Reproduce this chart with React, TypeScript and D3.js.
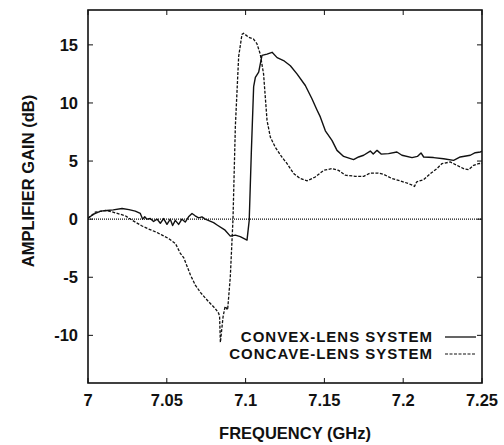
import React from "react";
import * as d3 from "d3";

const xTicks = [7, 7.05, 7.1, 7.15, 7.2, 7.25];
const xTickLabels = ["7", "7.05", "7.1", "7.15", "7.2", "7.25"];
const yTicks = [-10, -5, 0, 5, 10, 15];
const yTickLabels = ["-10", "-5", "0", "5", "10", "15"];

const seriesNames = ["CONVEX-LENS SYSTEM", "CONCAVE-LENS SYSTEM"];

const convexFreq = [
  7.0, 7.004, 7.008, 7.012, 7.016, 7.0216, 7.026, 7.03, 7.0332, 7.0347, 7.036, 7.0374, 7.0395,
  7.0416, 7.0438, 7.0459, 7.048, 7.0501, 7.0522, 7.0537, 7.0554, 7.0575, 7.0596, 7.0617, 7.0638,
  7.066, 7.068, 7.0702, 7.0723, 7.0744, 7.0797, 7.0819, 7.087, 7.0903, 7.0935, 7.0966, 7.1009,
  7.1023, 7.1036, 7.1051, 7.1062, 7.1083, 7.1104, 7.1136, 7.1168, 7.12, 7.1241, 7.1284, 7.1326,
  7.1379, 7.1421, 7.1453, 7.1474, 7.1506, 7.1548, 7.158, 7.1622, 7.1685, 7.1717, 7.1749, 7.1791,
  7.181, 7.1834, 7.186, 7.1907, 7.196, 7.1992, 7.2056, 7.209, 7.2113, 7.213, 7.2193, 7.2256,
  7.232, 7.2362, 7.2426, 7.2457, 7.249, 7.25,
];
const convexGain = [
  0.1, 0.45, 0.69, 0.75, 0.8, 0.92, 0.82, 0.69, 0.49, 0.0, 0.2, 0.0, 0.06,
  -0.2, 0.0, -0.35, 0.05, -0.45, 0.0, -0.55, -0.1, -0.45, 0.0, -0.25, 0.2,
  0.49, 0.29, 0.11, 0.2, 0.0, -0.3, -0.5, -0.95, -1.46, -1.37, -1.5, -1.8,
  -0.1, 5.6, 11.4, 12.2, 12.65, 14.1, 14.2, 14.36, 13.9, 13.65, 13.2, 12.5,
  11.5, 10.36, 9.4, 8.8, 7.6, 6.78, 5.92, 5.4, 5.12, 5.35, 5.5, 5.86,
  5.6, 5.92, 5.6, 5.64, 5.78, 5.5, 5.3, 5.4, 5.7, 5.35, 5.3, 5.2,
  5.06, 5.35, 5.5, 5.72, 5.78, 5.85,
];

const concaveFreq = [
  7.0, 7.0046, 7.011, 7.0152, 7.0237, 7.028, 7.034, 7.0385, 7.043, 7.047, 7.051, 7.0555, 7.0586,
  7.0607, 7.065, 7.068, 7.0713, 7.0765, 7.0808, 7.0829, 7.0835, 7.084, 7.0857, 7.087, 7.0886,
  7.0903, 7.092, 7.0935, 7.0956, 7.0977, 7.0987, 7.102, 7.105, 7.1072, 7.1093, 7.1114, 7.1136,
  7.1157, 7.1188, 7.123, 7.1263, 7.1305, 7.1347, 7.139, 7.1442, 7.1495, 7.1548, 7.159, 7.1633,
  7.1696, 7.175, 7.1791, 7.184, 7.1876, 7.1929, 7.1982, 7.2034, 7.2072, 7.2085, 7.2129, 7.2172,
  7.2214, 7.2246, 7.2299, 7.2341, 7.2383, 7.2415, 7.2447, 7.2478, 7.25,
];
const concaveGain = [
  0.05, 0.6, 0.75, 0.63, 0.29, -0.09, -0.57, -0.85, -1.1, -1.37, -1.65, -2.1, -2.95,
  -3.3, -4.8, -5.65, -6.3, -7.1, -7.7, -8.1, -8.4, -10.6, -8.4, -7.5, -7.8,
  -4.95, 0.0, 8.0, 14.0, 15.9, 16.0, 15.65, 15.5, 15.1, 14.2, 12.5, 8.5,
  7.06, 6.2, 5.35, 4.78, 3.92, 3.5, 3.3, 3.63, 4.2, 4.35, 4.2, 3.78,
  3.69, 3.69, 3.97, 3.97, 3.86, 3.49, 3.29, 3.06, 2.83, 3.2, 3.4, 3.92,
  4.35, 4.78, 4.92, 4.63, 4.35, 4.26, 4.63, 4.78, 4.8,
];

const W = 504;
const H = 445;
const plot = { left: 88, right: 482, top: 10, bottom: 383 };
const FONT = "'Liberation Sans', Arial, Helvetica, sans-serif";

export default function App() {
  const x = d3.scaleLinear().domain([7, 7.25]).range([plot.left, plot.right]);
  const y = d3.scaleLinear().domain([-14.1, 18]).range([plot.bottom, plot.top]);

  const line = d3
    .line<[number, number]>()
    .x((d) => x(d[0]))
    .y((d) => y(d[1]));

  const convexPts = convexFreq.map((f, i) => [f, convexGain[i]] as [number, number]);
  const concavePts = concaveFreq.map((f, i) => [f, concaveGain[i]] as [number, number]);

  const tickLen = 5;
  const textStyle = {
    fontFamily: FONT,
    fontWeight: "bold" as const,
    fontSize: 16.5,
    fill: "#111",
  };
  const legendStyle = {
    fontFamily: FONT,
    fontWeight: "bold" as const,
    fontSize: 15,
    letterSpacing: 1,
    fill: "#111",
  };

  return (
    <svg
      width={W}
      height={H}
      style={{ position: "absolute", left: 0, top: 0, background: "#fff" }}
    >
      <defs>
        <clipPath id="plotClip">
          <rect x={plot.left} y={plot.top} width={plot.right - plot.left} height={plot.bottom - plot.top} />
        </clipPath>
      </defs>
      {/* zero line */}
      <line
        x1={plot.left}
        x2={plot.right}
        y1={y(0)}
        y2={y(0)}
        stroke="#111"
        strokeWidth={1.1}
        strokeDasharray="1,1"
      />
      {/* ticks */}
      {xTicks.map((t, i) => (
        <g key={"xt" + i}>
          <line x1={x(t)} x2={x(t)} y1={plot.bottom} y2={plot.bottom - tickLen} stroke="#111" strokeWidth={1} />
          <line x1={x(t)} x2={x(t)} y1={plot.top} y2={plot.top + tickLen} stroke="#111" strokeWidth={1} />
          <text x={x(t)} y={406} textAnchor="middle" {...textStyle}>
            {xTickLabels[i]}
          </text>
        </g>
      ))}
      {yTicks.map((t, i) => (
        <g key={"yt" + i}>
          <line x1={plot.left} x2={plot.left + tickLen} y1={y(t)} y2={y(t)} stroke="#111" strokeWidth={1} />
          <line x1={plot.right} x2={plot.right - tickLen} y1={y(t)} y2={y(t)} stroke="#111" strokeWidth={1} />
          <text x={78} y={y(t) + 6} textAnchor="end" {...textStyle}>
            {yTickLabels[i]}
          </text>
        </g>
      ))}
      {/* curves */}
      <g clipPath="url(#plotClip)">
        <path d={line(convexPts) || ""} fill="none" stroke="#111" strokeWidth={1.4} strokeLinejoin="round" />
        <path
          d={line(concavePts) || ""}
          fill="none"
          stroke="#111"
          strokeWidth={1.3}
          strokeDasharray="3,1.5"
        />
      </g>
      {/* frame */}
      <rect
        x={plot.left}
        y={plot.top}
        width={plot.right - plot.left}
        height={plot.bottom - plot.top}
        fill="none"
        stroke="#111"
        strokeWidth={1.6}
      />
      {/* legend */}
      <text x={433} y={341.5} textAnchor="end" {...legendStyle}>
        {seriesNames[0]}
      </text>
      <line x1={445} x2={476} y1={337} y2={337} stroke="#111" strokeWidth={1.3} />
      <text x={433} y={359} textAnchor="end" {...legendStyle}>
        {seriesNames[1]}
      </text>
      <line x1={445} x2={476} y1={354} y2={354} stroke="#111" strokeWidth={1.2} strokeDasharray="3,1.5" />
      {/* axis titles */}
      <text x={295} y={439} textAnchor="middle" {...textStyle}>
        FREQUENCY (GHz)
      </text>
      <text transform={`translate(34, 181) rotate(-90)`} textAnchor="middle" {...textStyle}>
        AMPLIFIER GAIN (dB)
      </text>
    </svg>
  );
}
